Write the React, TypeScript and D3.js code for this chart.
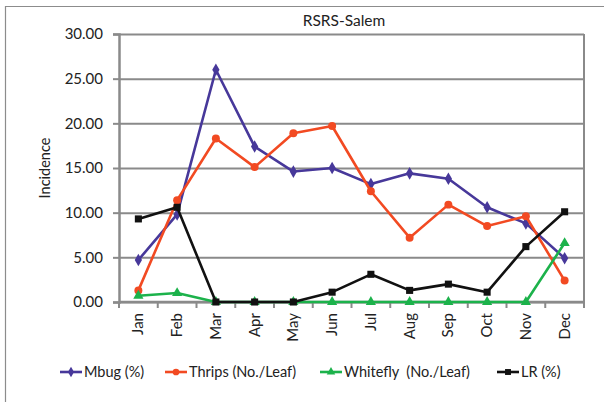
import React, { useEffect, useRef } from 'react';
import * as d3 from 'd3';

const months = ['Jan', 'Feb', 'Mar', 'Apr', 'May', 'Jun', 'Jul', 'Aug', 'Sep', 'Oct', 'Nov', 'Dec'];
const mbug = [4.7, 9.8, 26.0, 17.4, 14.6, 15.0, 13.2, 14.4, 13.8, 10.6, 8.8, 4.9];
const thrips = [1.3, 11.4, 18.3, 15.1, 18.9, 19.7, 12.4, 7.2, 10.9, 8.5, 9.6, 2.4];
const whitefly = [0.7, 1.0, 0, 0, 0, 0, 0, 0, 0, 0, 0, 6.6];
const lr = [9.3, 10.6, 0, 0, 0, 1.1, 3.1, 1.3, 2.0, 1.1, 6.2, 10.1];
const yTicks = [0, 5, 10, 15, 20, 25, 30];

const series = [
  { name: 'Mbug (%)', values: mbug, color: '#47389a', symbol: d3.symbolDiamond, size: 46 },
  { name: 'Thrips (No./Leaf)', values: thrips, color: '#f24a22', symbol: d3.symbolCircle, size: 50 },
  { name: 'Whitefly  (No./Leaf)', values: whitefly, color: '#1cb24b', symbol: d3.symbolTriangle, size: 45 },
  { name: 'LR (%)', values: lr, color: '#111111', symbol: d3.symbolSquare, size: 50 },
];

const W = 604;
const H = 402;
const font = 'Lato, "Open Sans", sans-serif';

export default function App() {
  const svgRef = useRef<SVGSVGElement>(null);

  useEffect(() => {
    if (!svgRef.current) return;
    const svg = d3.select(svgRef.current);
    svg.selectAll('*').remove();

    const plot = { left: 119, right: 584, top: 34, bottom: 302 };

    const x = d3.scaleBand().domain(months).range([plot.left, plot.right]);
    const y = d3.scaleLinear().domain([0, 30]).range([plot.bottom, plot.top]);
    const cx = (m: string) => (x(m) || 0) + x.bandwidth() / 2;

    // chart border
    svg.append('path')
      .attr('d', `M5.5,${H} V6.5 H${W}`)
      .attr('fill', 'none')
      .attr('stroke', '#8c8c8c')
      .attr('stroke-width', 1.2);

    // title
    svg.append('text')
      .attr('x', 344)
      .attr('y', 26)
      .attr('text-anchor', 'middle')
      .attr('font-family', font)
      .attr('font-size', 15.5)
      .attr('fill', '#222')
      .text('RSRS-Salem');

    // gridlines
    svg.append('g')
      .attr('transform', `translate(${plot.left},0)`)
      .call(d3.axisLeft(y).tickValues(yTicks).tickSize(-(plot.right - plot.left)).tickFormat(() => ''))
      .call((g) => g.select('.domain').remove())
      .call((g) => g.selectAll('line').attr('stroke', '#8a8a8a').attr('stroke-width', 2));

    // right border of plot
    svg.append('line')
      .attr('x1', plot.right).attr('x2', plot.right)
      .attr('y1', plot.top).attr('y2', plot.bottom)
      .attr('stroke', '#8a8a8a').attr('stroke-width', 2);

    // y axis
    const yAxis = svg.append('g')
      .attr('transform', `translate(${plot.left},0)`)
      .call(d3.axisLeft(y).tickValues(yTicks).tickSize(6).tickPadding(10).tickFormat((d) => (d as number).toFixed(2)));
    yAxis.select('.domain').attr('stroke', '#8a8a8a').attr('stroke-width', 2.5);
    yAxis.selectAll('line').attr('stroke', '#8a8a8a').attr('stroke-width', 2);
    yAxis.selectAll('text').attr('font-family', font).attr('font-size', 15).attr('fill', '#222');

    // x axis with ticks between categories
    const xAxis = svg.append('g').attr('transform', `translate(0,${plot.bottom})`);
    xAxis.append('line')
      .attr('x1', plot.left).attr('x2', plot.right)
      .attr('stroke', '#8a8a8a').attr('stroke-width', 2.5);
    xAxis.selectAll('.tk')
      .data(d3.range(months.length + 1))
      .enter()
      .append('line')
      .attr('x1', (i) => plot.left + i * x.bandwidth())
      .attr('x2', (i) => plot.left + i * x.bandwidth())
      .attr('y1', 0)
      .attr('y2', 6)
      .attr('stroke', '#8a8a8a')
      .attr('stroke-width', 2);
    xAxis.selectAll('.lbl')
      .data(months)
      .enter()
      .append('text')
      .attr('transform', (m) => `translate(${cx(m) + 5},11) rotate(-90)`)
      .attr('text-anchor', 'end')
      .attr('font-family', font)
      .attr('font-size', 15)
      .attr('fill', '#222')
      .text((m) => m);

    // y title
    svg.append('text')
      .attr('transform', 'translate(50,168) rotate(-90)')
      .attr('text-anchor', 'middle')
      .attr('font-family', font)
      .attr('font-size', 14.5)
      .attr('fill', '#222')
      .text('Incidence');

    // series
    const line = d3.line<number>()
      .x((_d, i) => cx(months[i]))
      .y((d) => y(d));

    series.forEach((s) => {
      const g = svg.append('g');
      g.append('path')
        .attr('d', line(s.values))
        .attr('fill', 'none')
        .attr('stroke', s.color)
        .attr('stroke-width', 2.6)
        .attr('stroke-linejoin', 'round');
      g.selectAll('.pt')
        .data(s.values)
        .enter()
        .append('path')
        .attr('d', d3.symbol().type(s.symbol).size(s.size))
        .attr('transform', (d, i) => `translate(${cx(months[i])},${y(d)})`)
        .attr('fill', s.color);
    });

    // legend
    const legendX = [60, 165, 320, 497];
    const ly = 372;
    series.forEach((s, i) => {
      const g = svg.append('g').attr('transform', `translate(${legendX[i]},${ly})`);
      g.append('line')
        .attr('x1', 0).attr('x2', 22)
        .attr('stroke', s.color).attr('stroke-width', 2.6);
      g.append('path')
        .attr('d', d3.symbol().type(s.symbol).size(s.size * 0.7))
        .attr('transform', 'translate(11,0)')
        .attr('fill', s.color);
      g.append('text')
        .attr('x', 24)
        .attr('y', 5)
        .attr('font-family', font)
        .attr('font-size', 14.5)
        .attr('fill', '#222')
        .style('white-space', 'pre')
        .text(s.name);
    });
  }, []);

  return (
    <svg
      ref={svgRef}
      width={W}
      height={H}
      style={{ position: 'absolute', left: 0, top: 0, background: '#fff' }}
    />
  );
}
